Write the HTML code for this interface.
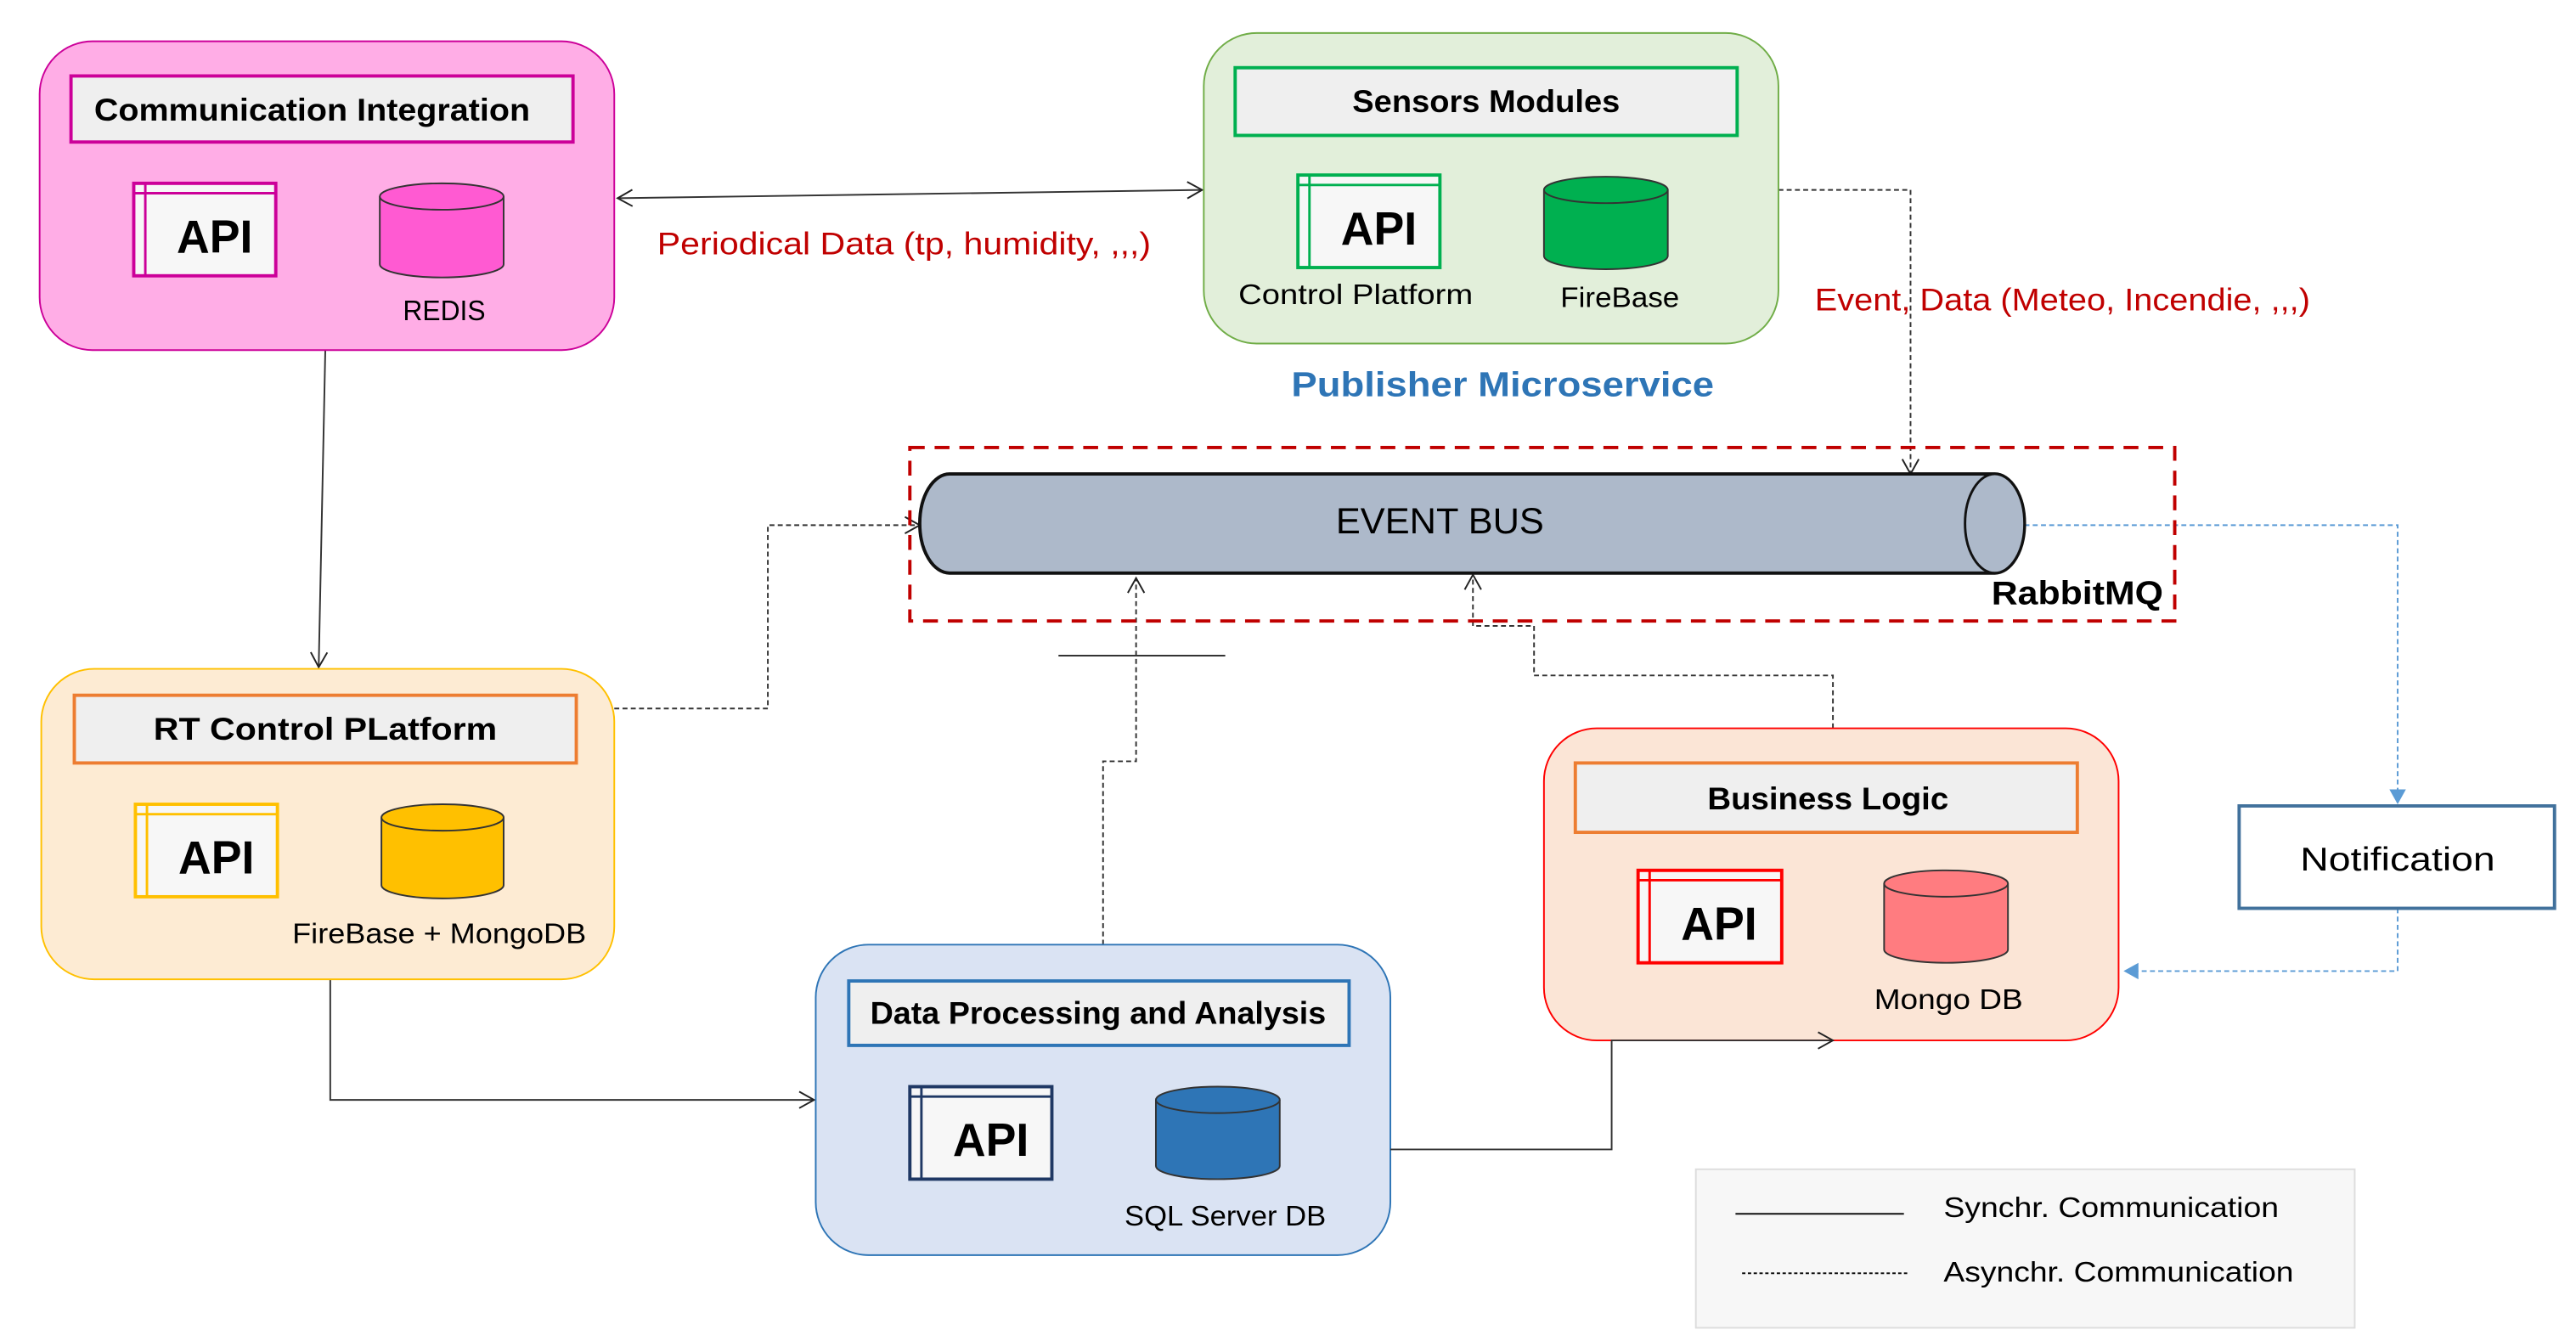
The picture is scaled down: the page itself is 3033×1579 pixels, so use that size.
<!DOCTYPE html>
<html><head><meta charset="utf-8"><style>
html,body{margin:0;padding:0;background:#fff;}
svg{display:block;}
text{font-family:"Liberation Sans",sans-serif;}
</style></head><body>
<svg width="3033" height="1579" viewBox="0 0 1560 812" preserveAspectRatio="none" xmlns="http://www.w3.org/2000/svg">
<defs>
<marker id="oa" markerWidth="12" markerHeight="12" refX="10" refY="6" orient="auto" markerUnits="userSpaceOnUse"><path d="M1,1 L10,6 L1,11" fill="none" stroke="#222" stroke-width="1"/></marker>
<marker id="oas" markerWidth="12" markerHeight="12" refX="2" refY="6" orient="auto" markerUnits="userSpaceOnUse"><path d="M11,1 L2,6 L11,11" fill="none" stroke="#222" stroke-width="1"/></marker>
<marker id="ba" markerWidth="12" markerHeight="12" refX="10" refY="6" orient="auto" markerUnits="userSpaceOnUse"><path d="M1,1 L10,6 L1,11 Z" fill="#5b9bd5"/></marker>
</defs>

<!-- connectors -->
<line x1="374" y1="120" x2="728" y2="115" stroke="#333" stroke-width="1" marker-start="url(#oas)" marker-end="url(#oa)"/>
<line x1="197" y1="212" x2="193" y2="404" stroke="#333" stroke-width="1" marker-end="url(#oa)"/>
<polyline points="1077,115 1157,115 1157,287" fill="none" stroke="#333" stroke-width="1" stroke-dasharray="3,2" marker-end="url(#oa)"/>
<polyline points="372,429 465,429 465,318 557,318" fill="none" stroke="#333" stroke-width="1" stroke-dasharray="3,2" marker-end="url(#oa)"/>
<polyline points="668,572 668,461 688,461 688,350" fill="none" stroke="#333" stroke-width="1" stroke-dasharray="3,2" marker-end="url(#oa)"/>
<line x1="641" y1="397" x2="742" y2="397" stroke="#333" stroke-width="1"/>
<polyline points="200,593 200,666 493,666" fill="none" stroke="#333" stroke-width="1" marker-end="url(#oa)"/>
<polyline points="1110,441 1110,409 929,409 929,379 892,379 892,348" fill="none" stroke="#333" stroke-width="1" stroke-dasharray="3,2" marker-end="url(#oa)"/>
<polyline points="1226,318 1452,318 1452,487" fill="none" stroke="#5b9bd5" stroke-width="1" stroke-dasharray="3,2" marker-end="url(#ba)"/>
<polyline points="1452,550 1452,588 1286,588" fill="none" stroke="#5b9bd5" stroke-width="1" stroke-dasharray="3,2" marker-end="url(#ba)"/>

<!-- Communication Integration -->
<rect x="24" y="25" width="348" height="187" rx="32" fill="#ffade6" stroke="#cc0099" stroke-width="1"/>
<rect x="43" y="46" width="304" height="40" fill="#efefef" stroke="#cc0099" stroke-width="2"/>
<text x="189" y="73" font-size="19" font-weight="bold" text-anchor="middle" textLength="264" lengthAdjust="spacingAndGlyphs">Communication Integration</text>
<rect x="81" y="111" width="86" height="56" fill="#f7f7f7" stroke="#cc0099" stroke-width="2"/>
<line x1="81" y1="117" x2="167" y2="117" stroke="#cc0099" stroke-width="1.5"/><line x1="88" y1="111" x2="88" y2="167" stroke="#cc0099" stroke-width="1.5"/>
<text x="130" y="153" font-size="28" font-weight="bold" text-anchor="middle" textLength="46" lengthAdjust="spacingAndGlyphs">API</text>
<path d="M230,119 L230,160 A37.5,8 0 0 0 305,160 L305,119" fill="#ff5ad2" stroke="#333" stroke-width="1"/>
<ellipse cx="267.5" cy="119" rx="37.5" ry="8" fill="#ff5ad2" stroke="#333" stroke-width="1"/>
<text x="269" y="194" font-size="17" text-anchor="middle" textLength="50" lengthAdjust="spacingAndGlyphs">REDIS</text>

<!-- Sensors -->
<rect x="729" y="20" width="348" height="188" rx="32" fill="#e2efda" stroke="#70ad47" stroke-width="1"/>
<rect x="748" y="41" width="304" height="41" fill="#efefef" stroke="#00b050" stroke-width="2"/>
<text x="900" y="68" font-size="19" font-weight="bold" text-anchor="middle" textLength="162" lengthAdjust="spacingAndGlyphs">Sensors Modules</text>
<rect x="786" y="106" width="86" height="56" fill="#f7f7f7" stroke="#00b050" stroke-width="2"/>
<line x1="786" y1="112" x2="872" y2="112" stroke="#00b050" stroke-width="1.5"/><line x1="793" y1="106" x2="793" y2="162" stroke="#00b050" stroke-width="1.5"/>
<text x="835" y="148" font-size="28" font-weight="bold" text-anchor="middle" textLength="46" lengthAdjust="spacingAndGlyphs">API</text>
<path d="M935,115 L935,155 A37.5,8 0 0 0 1010,155 L1010,115" fill="#00b050" stroke="#333" stroke-width="1"/>
<ellipse cx="972.5" cy="115" rx="37.5" ry="8" fill="#00b050" stroke="#333" stroke-width="1"/>
<text x="821" y="184" font-size="17" text-anchor="middle" textLength="142" lengthAdjust="spacingAndGlyphs">Control Platform</text>
<text x="981" y="186" font-size="17" text-anchor="middle" textLength="72" lengthAdjust="spacingAndGlyphs">FireBase</text>
<text x="910" y="240" font-size="21" font-weight="bold" fill="#2e75b6" text-anchor="middle" textLength="256" lengthAdjust="spacingAndGlyphs">Publisher Microservice</text>
<text x="398" y="154" font-size="19" fill="#c00000" textLength="299" lengthAdjust="spacingAndGlyphs">Periodical Data (tp, humidity, ,,,)</text>
<text x="1099" y="188" font-size="19" fill="#c00000" textLength="300" lengthAdjust="spacingAndGlyphs">Event, Data (Meteo, Incendie, ,,,)</text>

<!-- Event bus -->
<rect x="551" y="271" width="766" height="105" fill="none" stroke="#c00000" stroke-width="2" stroke-dasharray="9,6"/>
<path d="M575,287 L1208,287 A18,30 0 0 1 1208,347 L575,347 A18,30 0 0 1 575,287 Z" fill="#adb9ca" stroke="#111" stroke-width="2"/>
<ellipse cx="1208" cy="317" rx="18" ry="30" fill="#adb9ca" stroke="#111" stroke-width="1.5"/>
<text x="872" y="323" font-size="22" text-anchor="middle" textLength="126" lengthAdjust="spacingAndGlyphs">EVENT BUS</text>
<text x="1258" y="366" font-size="20" font-weight="bold" text-anchor="middle" textLength="104" lengthAdjust="spacingAndGlyphs">RabbitMQ</text>

<!-- RT Control -->
<rect x="25" y="405" width="347" height="188" rx="32" fill="#fdebd3" stroke="#ffc000" stroke-width="1"/>
<rect x="45" y="421" width="304" height="41" fill="#efefef" stroke="#ed7d31" stroke-width="2"/>
<text x="197" y="448" font-size="19" font-weight="bold" text-anchor="middle" textLength="208" lengthAdjust="spacingAndGlyphs">RT Control PLatform</text>
<rect x="82" y="487" width="86" height="56" fill="#f7f7f7" stroke="#ffc000" stroke-width="2"/>
<line x1="82" y1="493" x2="168" y2="493" stroke="#ffc000" stroke-width="1.5"/><line x1="89" y1="487" x2="89" y2="543" stroke="#ffc000" stroke-width="1.5"/>
<text x="131" y="529" font-size="28" font-weight="bold" text-anchor="middle" textLength="46" lengthAdjust="spacingAndGlyphs">API</text>
<path d="M231,495 L231,536 A37,8 0 0 0 305,536 L305,495" fill="#ffc000" stroke="#333" stroke-width="1"/>
<ellipse cx="268" cy="495" rx="37" ry="8" fill="#ffc000" stroke="#333" stroke-width="1"/>
<text x="266" y="571" font-size="17" text-anchor="middle" textLength="178" lengthAdjust="spacingAndGlyphs">FireBase + MongoDB</text>

<!-- Data Processing -->
<rect x="494" y="572" width="348" height="188" rx="32" fill="#dae3f3" stroke="#2e75b6" stroke-width="1"/>
<rect x="514" y="594" width="303" height="39" fill="#efefef" stroke="#2e75b6" stroke-width="2"/>
<text x="665" y="620" font-size="19" font-weight="bold" text-anchor="middle" textLength="276" lengthAdjust="spacingAndGlyphs">Data Processing and Analysis</text>
<rect x="551" y="658" width="86" height="56" fill="#f7f7f7" stroke="#1f3864" stroke-width="2"/>
<line x1="551" y1="664" x2="637" y2="664" stroke="#1f3864" stroke-width="1.5"/><line x1="558" y1="658" x2="558" y2="714" stroke="#1f3864" stroke-width="1.5"/>
<text x="600" y="700" font-size="28" font-weight="bold" text-anchor="middle" textLength="46" lengthAdjust="spacingAndGlyphs">API</text>
<path d="M700,666 L700,706 A37.5,8 0 0 0 775,706 L775,666" fill="#2e75b6" stroke="#333" stroke-width="1"/>
<ellipse cx="737.5" cy="666" rx="37.5" ry="8" fill="#2e75b6" stroke="#333" stroke-width="1"/>
<text x="742" y="742" font-size="17" text-anchor="middle" textLength="122" lengthAdjust="spacingAndGlyphs">SQL Server DB</text>

<!-- Business Logic -->
<rect x="935" y="441" width="348" height="189" rx="32" fill="#fbe5d6" stroke="#ff0000" stroke-width="1"/>
<rect x="954" y="462" width="304" height="42" fill="#efefef" stroke="#ed7d31" stroke-width="2"/>
<text x="1107" y="490" font-size="19" font-weight="bold" text-anchor="middle" textLength="146" lengthAdjust="spacingAndGlyphs">Business Logic</text>
<rect x="992" y="527" width="87" height="56" fill="#f7f7f7" stroke="#ff0000" stroke-width="2"/>
<line x1="992" y1="533" x2="1079" y2="533" stroke="#ff0000" stroke-width="1.5"/><line x1="999" y1="527" x2="999" y2="583" stroke="#ff0000" stroke-width="1.5"/>
<text x="1041" y="569" font-size="28" font-weight="bold" text-anchor="middle" textLength="46" lengthAdjust="spacingAndGlyphs">API</text>
<path d="M1141,535 L1141,575 A37.5,8 0 0 0 1216,575 L1216,535" fill="#ff7c80" stroke="#333" stroke-width="1"/>
<ellipse cx="1178.5" cy="535" rx="37.5" ry="8" fill="#ff7c80" stroke="#333" stroke-width="1"/>
<text x="1180" y="611" font-size="17" text-anchor="middle" textLength="90" lengthAdjust="spacingAndGlyphs">Mongo DB</text>

<polyline points="842,696 976,696 976,630 1110,630" fill="none" stroke="#333" stroke-width="1" marker-end="url(#oa)"/>

<!-- Notification -->
<rect x="1356" y="488" width="191" height="62" fill="#fff" stroke="#41719c" stroke-width="2"/>
<text x="1452" y="527" font-size="20" text-anchor="middle" textLength="118" lengthAdjust="spacingAndGlyphs">Notification</text>

<!-- Legend -->
<rect x="1027" y="708" width="399" height="96" fill="#f7f7f7" stroke="#ddd" stroke-width="1"/>
<line x1="1051" y1="735" x2="1153" y2="735" stroke="#111" stroke-width="1"/>
<text x="1177" y="737" font-size="17" textLength="203" lengthAdjust="spacingAndGlyphs">Synchr. Communication</text>
<line x1="1055" y1="771" x2="1155" y2="771" stroke="#111" stroke-width="1" stroke-dasharray="2,1.5"/>
<text x="1177" y="776" font-size="17" textLength="212" lengthAdjust="spacingAndGlyphs">Asynchr. Communication</text>
</svg>
</body></html>
